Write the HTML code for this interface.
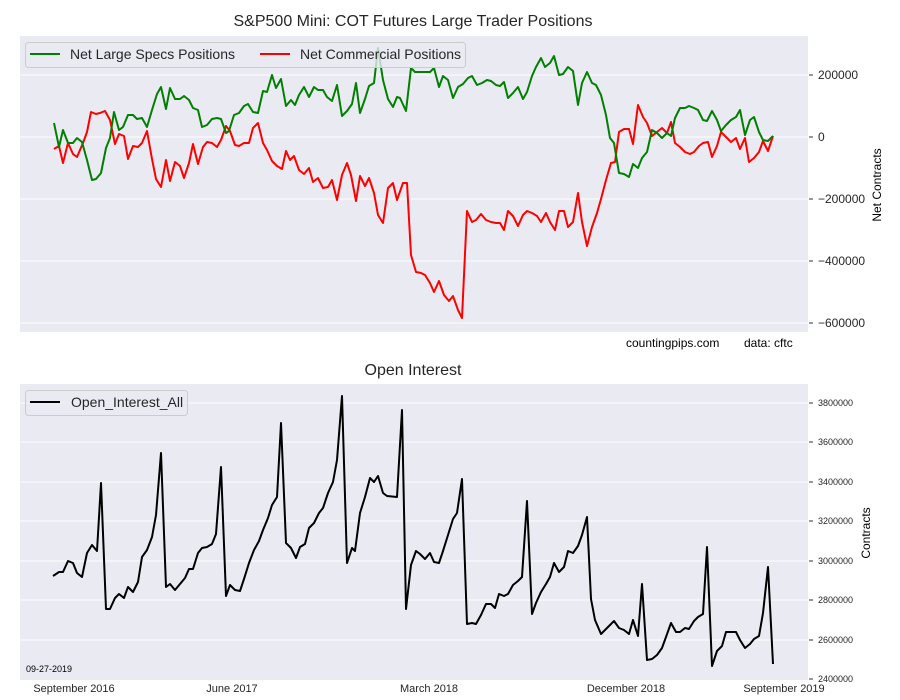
<!DOCTYPE html>
<html><head><meta charset="utf-8"><style>
body{margin:0;background:#fff;}
svg{display:block;font-family:"Liberation Sans",Arial,sans-serif;}
</style></head><body>
<svg width="900" height="700" viewBox="0 0 900 700" xmlns="http://www.w3.org/2000/svg">
<rect width="900" height="700" fill="#fff"/>
<!-- top panel -->
<rect x="20" y="36" width="788" height="296" fill="#eaeaf2"/>
<g stroke="#fff" stroke-width="1">
<line x1="20" y1="75" x2="808" y2="75"/><line x1="20" y1="137" x2="808" y2="137"/>
<line x1="20" y1="199" x2="808" y2="199"/><line x1="20" y1="261" x2="808" y2="261"/>
<line x1="20" y1="323" x2="808" y2="323"/>
</g>
<g stroke="#333" stroke-width="1">
<line x1="809" y1="75" x2="813" y2="75"/><line x1="809" y1="137" x2="813" y2="137"/>
<line x1="809" y1="199" x2="813" y2="199"/><line x1="809" y1="261" x2="813" y2="261"/>
<line x1="809" y1="323" x2="813" y2="323"/>
</g>
<g font-size="12" fill="#262626">
<text x="818" y="79">200000</text><text x="818" y="141">0</text>
<text x="818" y="203">−200000</text><text x="818" y="265">−400000</text>
<text x="818" y="327">−600000</text>
</g>
<text transform="translate(881,185) rotate(-90)" text-anchor="middle" font-size="12" fill="#000">Net Contracts</text>
<text x="413" y="26" text-anchor="middle" font-size="16" fill="#262626">S&amp;P500 Mini: COT Futures Large Trader Positions</text>
<polyline fill="none" stroke="#ff0000" stroke-width="2" stroke-linejoin="round" points="54,149 59,146 63,163 68,143 73,154 77,157 83,143 87,132 91,112 96,114 100,113 105,111 110,120 115,144 119,134 124,136 128,159 133,146 138,147 142,143 147,131 152,159 156,179 161,187 166,160 170,181 175,162 180,166 184,178 189,163 193,144 198,164 203,147 207,142 212,143 217,147 221,140 226,126 230,131 235,145 239,146 244,143 249,143 253,128 258,123 263,143 267,150 272,161 277,166 282,169 286,151 290,160 294,156 299,170 304,174 309,168 313,182 318,178 323,188 328,187 332,180 337,200 342,175 347,163 351,175 356,201 360,176 365,186 369,178 374,193 378,215 383,223 388,188 393,183 397,200 403,183 407,183 411,255 416,272 421,273 425,275 430,283 434,292 439,281 444,295 449,301 453,296 458,310 462,318 467,211 472,222 476,220 481,214 486,220 491,222 496,223 500,223 504,230 508,211 513,216 518,226 523,215 527,211 532,213 537,216 541,222 546,213 550,222 555,230 559,211 564,211 568,227 573,222 578,193 582,222 587,246 592,227 597,213 601,199 606,180 611,163 615,162 619,132 624,129 629,129 633,144 638,105 643,117 647,123 652,136 657,132 662,128 667,133 671,122 675,143 680,147 685,152 690,154 694,152 699,146 703,143 708,142 712,157 717,146 721,132 726,137 731,142 736,138 740,149 745,138 749,162 754,158 759,152 763,141 768,151 773,136"/>
<polyline fill="none" stroke="#008000" stroke-width="2" stroke-linejoin="round" points="54,123 59,147 63,130 68,143 73,143 77,138 82,142 87,160 92,180 96,179 101,173 106,148 110,138 114,112 119,130 123,127 128,115 133,115 137,119 142,118 147,127 152,110 157,94 161,87 166,109 170,88 175,99 180,99 184,96 189,100 193,108 198,110 202,127 207,125 212,119 217,118 221,119 226,133 229,131 234,115 239,113 244,106 248,104 253,112 258,113 263,91 267,92 272,75 276,88 281,79 286,106 291,100 295,105 299,95 304,87 309,97 314,87 318,90 323,90 327,97 332,101 337,85 342,116 347,111 352,104 356,83 360,113 365,99 369,86 374,83 378,48 383,80 388,99 393,107 397,97 400,98 406,111 411,68 415,72 420,72 425,72 430,72 434,68 439,87 443,76 448,80 453,98 458,87 463,84 468,78 472,76 477,85 482,83 487,80 491,81 496,85 500,86 504,82 508,98 513,93 518,87 523,99 527,92 532,76 536,67 541,58 545,67 550,63 554,56 559,75 563,74 568,67 573,71 578,105 582,83 587,72 592,83 596,85 601,95 606,115 610,138 614,143 619,173 624,174 629,177 633,164 638,168 642,158 647,152 652,130 657,133 662,138 667,133 671,136 675,118 680,108 685,108 689,106 694,108 698,110 703,120 707,121 712,111 717,120 721,131 726,125 731,120 736,117 740,110 745,135 750,120 754,117 759,132 763,140 768,141 773,136"/>
<rect x="25.5" y="42.5" width="440" height="25" rx="3" fill="#eaeaf2" fill-opacity="0.8" stroke="#cccccc"/>
<line x1="30" y1="54" x2="60" y2="54" stroke="#008000" stroke-width="2"/>
<text x="70" y="59" font-size="14" fill="#262626">Net Large Specs Positions</text>
<line x1="260" y1="54" x2="290" y2="54" stroke="#ff0000" stroke-width="2"/>
<text x="300" y="59" font-size="14" fill="#262626">Net Commercial Positions</text>
<text x="626" y="347" font-size="12" fill="#000">countingpips.com</text>
<text x="744" y="347" font-size="12" fill="#000">data: cftc</text>
<!-- bottom panel -->
<rect x="20" y="384" width="788" height="296" fill="#eaeaf2"/>
<g stroke="#fff" stroke-width="1">
<line x1="20" y1="403" x2="808" y2="403"/><line x1="20" y1="442" x2="808" y2="442"/>
<line x1="20" y1="482" x2="808" y2="482"/><line x1="20" y1="521" x2="808" y2="521"/>
<line x1="20" y1="561" x2="808" y2="561"/><line x1="20" y1="600" x2="808" y2="600"/>
<line x1="20" y1="640" x2="808" y2="640"/>
</g>
<g stroke="#333" stroke-width="1">
<line x1="809" y1="403" x2="813" y2="403"/><line x1="809" y1="442" x2="813" y2="442"/>
<line x1="809" y1="482" x2="813" y2="482"/><line x1="809" y1="521" x2="813" y2="521"/>
<line x1="809" y1="561" x2="813" y2="561"/><line x1="809" y1="600" x2="813" y2="600"/>
<line x1="809" y1="640" x2="813" y2="640"/><line x1="809" y1="679" x2="813" y2="679"/>
</g>
<g font-size="9" fill="#262626">
<text x="818" y="406">3800000</text><text x="818" y="445">3600000</text>
<text x="818" y="485">3400000</text><text x="818" y="524">3200000</text>
<text x="818" y="564">3000000</text><text x="818" y="603">2800000</text>
<text x="818" y="643">2600000</text><text x="818" y="682">2400000</text>
</g>
<text transform="translate(870,533) rotate(-90)" text-anchor="middle" font-size="12" fill="#000">Contracts</text>
<text x="413" y="375" text-anchor="middle" font-size="16" fill="#262626">Open Interest</text>
<polyline fill="none" stroke="#000" stroke-width="2" stroke-linejoin="round" points="53,576 59,572 63,572 68,561 73,563 77,573 82,577 87,553 92,545 97,551 101,483 106,609 110,609 115,598 119,594 124,598 128,587 133,592 138,582 142,557 147,550 152,537 156,515 161,453 166,587 170,584 175,590 180,584 185,578 189,569 193,569 198,553 202,548 207,547 212,544 216,534 221,467 226,596 230,585 235,590 240,591 244,579 249,563 254,550 259,541 263,530 268,518 272,505 277,497 281,423 286,543 291,548 296,558 300,547 305,544 309,528 314,523 319,513 323,508 328,493 333,482 337,460 342,396 347,563 352,548 355,551 360,513 365,497 370,478 374,482 378,476 383,493 387,496 397,497 402,410 406,609 411,565 416,551 420,554 425,559 430,553 434,562 439,563 443,551 448,535 453,519 457,513 462,479 467,624 472,623 476,624 481,615 486,604 491,604 495,608 499,594 504,596 508,594 513,585 518,581 522,577 527,501 532,614 536,603 541,592 546,584 550,577 554,563 559,572 564,567 568,551 573,553 578,546 582,535 587,517 591,599 595,620 601,634 607,628 614,621 619,628 624,630 629,634 633,620 638,636 642,584 647,660 652,659 657,655 662,648 666,637 671,623 676,632 680,632 685,628 689,629 694,621 698,617 703,614 707,547 712,666 717,651 722,646 726,632 731,632 736,632 740,640 745,648 750,644 754,639 759,636 763,613 768,567 773,664"/>
<rect x="25.5" y="390.5" width="162" height="25" rx="3" fill="#eaeaf2" fill-opacity="0.8" stroke="#cccccc"/>
<line x1="30" y1="402" x2="60" y2="402" stroke="#000" stroke-width="2"/>
<text x="71" y="407" font-size="14" fill="#262626">Open_Interest_All</text>
<text x="26" y="672" font-size="9" fill="#000">09-27-2019</text>
<g font-size="11" fill="#262626" text-anchor="middle">
<text x="74" y="692">September 2016</text>
<text x="232" y="692">June 2017</text>
<text x="429" y="692">March 2018</text>
<text x="626" y="692">December 2018</text>
<text x="784" y="692">September 2019</text>
</g>
</svg>
</body></html>
